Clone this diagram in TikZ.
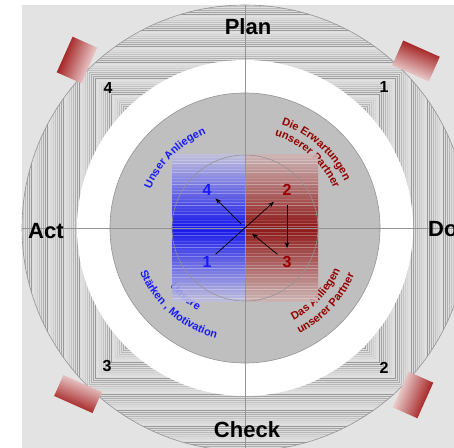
\documentclass[tikz,border=0pt]{standalone}
\usepackage{fontspec}
\setmainfont{Liberation Sans}
\usetikzlibrary{calc}
\usetikzlibrary{decorations.text}
\usetikzlibrary{arrows.meta}

\definecolor{pdcared}{RGB}{150,0,0}
\definecolor{pdcablue}{RGB}{25,25,255}
\definecolor{bluepale}{RGB}{190,190,224}
\definecolor{redpale}{RGB}{206,178,178}

\tikzset{
  axisline/.style={draw=black!42, line width=0.8pt},
  ringnum/.style={font=\fontsize{16}{18}\selectfont\bfseries, inner sep=1pt},
  phase/.style={font=\fontsize{22}{24}\selectfont\bfseries, inner sep=0pt},
  flow/.style={-{Stealth[length=6pt,width=4.5pt]}, line width=0.7pt},
}

\begin{document}
\begin{tikzpicture}[x=1pt,y=1pt]
    \useasboundingbox (0,0) rectangle (454,447);
    \coordinate (C) at (245,219);
    \clip (0,0) rectangle (454,447);

    \fill[black!11] (22,-10) rectangle (470,442);

    \begin{scope}
        \clip (C) circle (223);
        \fill[black!13] (C) circle (223);
        \foreach \s [count=\i] in {118,120,...,226}{
            \pgfmathtruncatemacro\g{12+4*mod(\i*7,8)}
            \draw[black!\g, line width=0.8pt] ($ (C)+(-\s,-\s) $) rectangle ($ (C)+(\s,\s) $);
        }
    \end{scope}
    \draw[black!42, line width=0.6pt] (C) circle (223);
    \fill[white] (C) circle (168);
    \filldraw[fill=black!25, draw=black!42, line width=0.6pt] (C) circle (135);

    \path[decorate, decoration={text along path, text align=center, text color=pdcablue,
        text={|\fontsize{11}{13}\selectfont\bfseries|Unser Anliegen}}]
        (C) ++(175:102) arc[start angle=175, end angle=95, radius=102];
    \path[decorate, decoration={text along path, text align=center, text color=pdcared,
        text={|\fontsize{11}{13}\selectfont\bfseries|Die Erwartungen}}]
        (C) ++(88:110) arc[start angle=88, end angle=8, radius=110];
    \path[decorate, decoration={text along path, text align=center, text color=pdcared,
        text={|\fontsize{11}{13}\selectfont\bfseries|unserer Partner}}]
        (C) ++(88:97) arc[start angle=88, end angle=8, radius=97];
    \path[decorate, decoration={text along path, text align=center, text color=pdcablue,
        text={|\fontsize{11}{13}\selectfont\bfseries|Unsere}}]
        (C) ++(189:95) arc[start angle=189, end angle=269, radius=95];
    \path[decorate, decoration={text along path, text align=center, text color=pdcablue,
        text={|\fontsize{11}{13}\selectfont\bfseries|Stärken , Motivation}}]
        (C) ++(189:114) arc[start angle=189, end angle=269, radius=114];
    \path[decorate, decoration={text along path, text align=center, text color=pdcared,
        text={|\fontsize{11}{13}\selectfont\bfseries|Das Anliegen}}]
        (C) ++(-83:104) arc[start angle=-83, end angle=-3, radius=104];
    \path[decorate, decoration={text along path, text align=center, text color=pdcared,
        text={|\fontsize{11}{13}\selectfont\bfseries|unserer Partner}}]
        (C) ++(-83:119) arc[start angle=-83, end angle=-3, radius=119];

    \shade[top color=bluepale, bottom color=bluepale, middle color=blue!95!black, opacity=0.88]
        ($ (C)+(-73,-73) $) rectangle ($ (C)+(0,73) $);
    \shade[top color=redpale, bottom color=redpale, middle color=pdcared!90!black, opacity=0.88]
        ($ (C)+(0,-73) $) rectangle ($ (C)+(73,73) $);
    \foreach \k in {1,...,48}{
        \pgfmathsetmacro\op{0.03+0.05*mod(\k*5,7)}
        \draw[white, opacity=\op, line width=1.6pt] ($ (C)+(-73,-73.5+3*\k) $) -- ++(146,0);
    }
    \draw[black!42, line width=0.6pt] (C) circle (73);

    \coordinate (top) at (245,442);
    \coordinate (bottom) at (245,-2);
    \coordinate (left) at (22,219);
    \coordinate (right) at (456,219);
    \draw[axisline] (top) -- (bottom);
    \draw[axisline] (left) -- (right);

    \node[ringnum, pdcablue] (n4) at (207,257) {4};
    \node[ringnum, pdcablue] (n1) at (207,185) {1};
    \node[ringnum, pdcared] (n2) at (287,257) {2};
    \node[ringnum, pdcared] (n3) at (287,185) {3};
    \draw[flow, shorten <=4pt, shorten >=10pt] (n1) -- (n2);
    \draw[flow, shorten <=8pt, shorten >=7pt] (n2) -- (n3);
    \draw[flow, shorten <=5pt, shorten >=9pt] (n3) -- (C);
    \draw[flow, shorten <=6pt, shorten >=4pt] (C) -- (n4);

    \node[ringnum] (r4) at (108,359) {4};
    \node[ringnum] (r1) at (384,360) {1};
    \node[ringnum] (r3) at (107,81) {3};
    \node[ringnum] (r2) at (384,79) {2};

    \node[phase, anchor=base] (plan) at (248,412) {Plan};
    \node[phase, anchor=base west] (act) at (28,208) {Act};
    \node[phase, anchor=base] (check) at (247,10) {Check};
    \node[phase, anchor=base west] (do) at (428,210) {Do};

    \begin{scope}[shift={(77,387)}, rotate=-24]
        \shade[top color=pdcared, bottom color=pdcared!6, shading angle=69] (-13.5,-19.5) rectangle (13.5,19.5);
    \end{scope}
    \begin{scope}[shift={(416,386)}, rotate=-24]
        \shade[top color=pdcared, bottom color=pdcared!6, shading angle=-21] (-20,-13.5) rectangle (20,13.5);
    \end{scope}
    \begin{scope}[shift={(78,53)}, rotate=-24]
        \shade[top color=pdcared, bottom color=pdcared!6, shading angle=159] (-21,-11.5) rectangle (21,11.5);
    \end{scope}
    \begin{scope}[shift={(413,52)}, rotate=-24]
        \shade[top color=pdcared, bottom color=pdcared!6, shading angle=-111] (-13.5,-19.5) rectangle (13.5,19.5);
    \end{scope}
\end{tikzpicture}
\end{document}
